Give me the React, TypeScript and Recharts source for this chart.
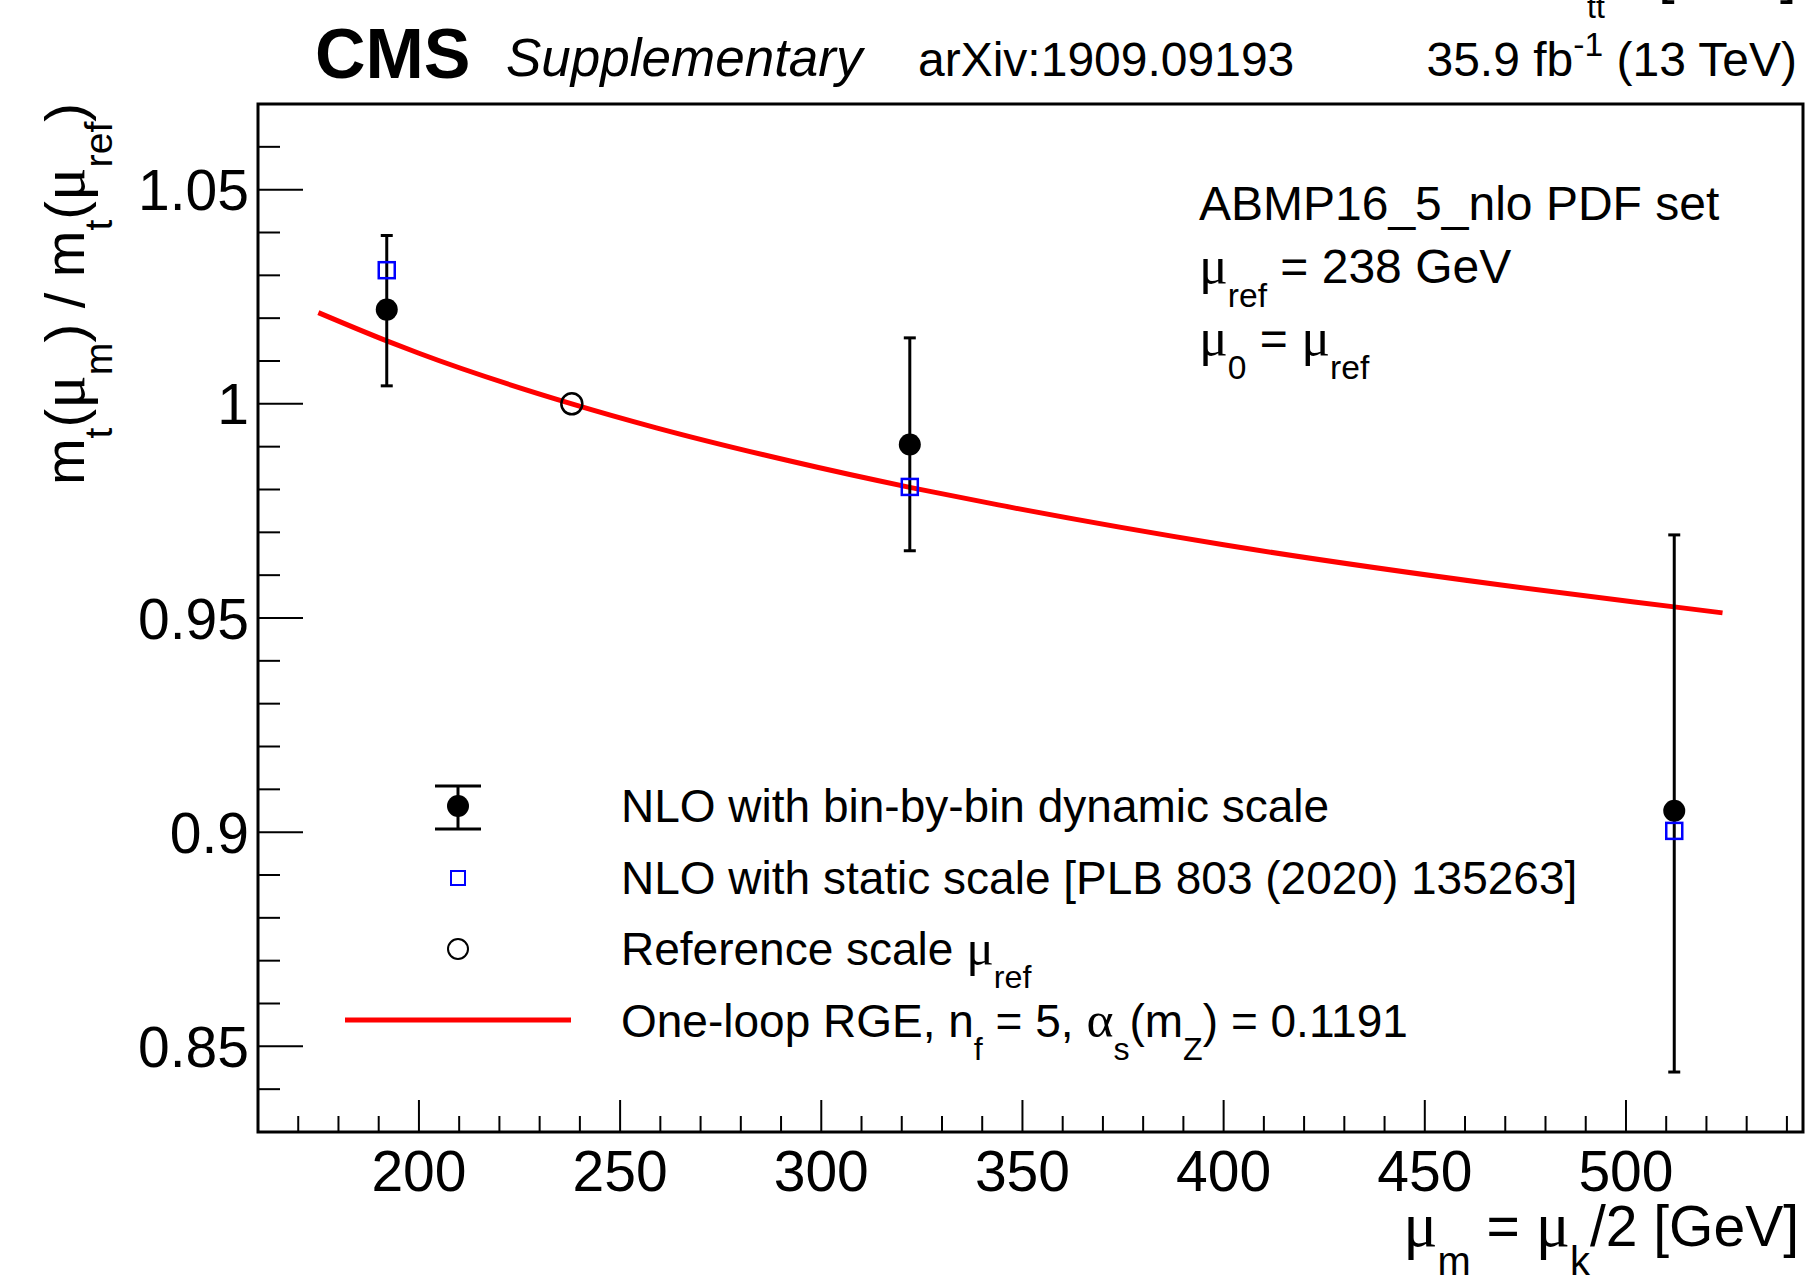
import React from "react";
import {
  ComposedChart,
  XAxis,
  YAxis,
  Line,
  Scatter,
  ErrorBar,
  ReferenceArea,
} from "recharts";

const FONT = "'Liberation Sans', Arial, Helvetica, sans-serif";
const GREEK = "'Liberation Serif', 'DejaVu Serif', serif";

// NLO with bin-by-bin dynamic scale
const dynMu = [192, 322, 512];
const dynRatio = [1.022, 0.9905, 0.905];
const dynErrDown = [0.0178, 0.0248, 0.061];
const dynErrUp = [0.0173, 0.0249, 0.0644];

// NLO with static scale
const staticMu = [192, 322, 512];
const staticRatio = [1.0312, 0.9806, 0.9003];

// reference scale
const refMu = [238];
const refRatio = [1.0];

// one-loop RGE curve
const rgeMu = [175, 192, 200, 238, 259, 292, 322, 344, 400, 469, 512, 524];
const rgeRatio = [1.0213, 1.0147, 1.0118, 1.0, 0.9944, 0.9867, 0.9805, 0.9764, 0.9671, 0.9577, 0.9526, 0.9512];

const xDomain = [160, 544];
const yDomain = [0.83, 1.07];
const xTicks = [160, 170, 180, 190, 200, 210, 220, 230, 240, 250, 260, 270, 280, 290, 300, 310, 320, 330, 340, 350, 360, 370, 380, 390, 400, 410, 420, 430, 440, 450, 460, 470, 480, 490, 500, 510, 520, 530, 540];
const xMajor = [200, 250, 300, 350, 400, 450, 500];
const yTicks = [0.83, 0.84, 0.85, 0.86, 0.87, 0.88, 0.89, 0.9, 0.91, 0.92, 0.93, 0.94, 0.95, 0.96, 0.97, 0.98, 0.99, 1, 1.01, 1.02, 1.03, 1.04, 1.05, 1.06, 1.07];
const yMajor = [0.85, 0.9, 0.95, 1, 1.05];

const dynData = dynMu.map((m, i) => ({ x: m, y: dynRatio[i], err: [dynErrDown[i], dynErrUp[i]] }));
const staticData = staticMu.map((m, i) => ({ x: m, y: staticRatio[i] }));
const refData = refMu.map((m, i) => ({ x: m, y: refRatio[i] }));
const rgeData = rgeMu.map((m, i) => ({ x: m, y: rgeRatio[i] }));

type Seg = { t: string; s?: "sub" | "sup"; g?: boolean };

function Rich({ segs, size, ...rest }: { segs: Seg[]; size: number; [k: string]: any }) {
  let cur = 0;
  return (
    <text fontFamily={FONT} fill="#000" fontSize={size} {...rest}>
      {segs.map((sg, i) => {
        const target = sg.s === "sub" ? size * 0.5 : sg.s === "sup" ? -size * 0.42 : 0;
        const dy = target - cur;
        cur = target;
        const fs = sg.s ? size * 0.7 : sg.g ? size * 1.12 : size;
        return (
          <tspan key={i} dy={dy} fontSize={fs} fontFamily={sg.g ? GREEK : FONT}>
            {sg.t}
          </tspan>
        );
      })}
    </text>
  );
}

function XTick({ x, y, payload }: any) {
  const v = payload.value;
  const major = xMajor.includes(v);
  return (
    <g>
      <line x1={x} x2={x} y1={y} y2={y - (major ? 32 : 16)} stroke="#000" strokeWidth={2} />
      {major && (
        <text x={x} y={y + 59} textAnchor="middle" fontSize={57} fontFamily={FONT} fill="#000">
          {v}
        </text>
      )}
    </g>
  );
}

function YTick({ x, y, payload }: any) {
  const v = payload.value;
  const major = yMajor.includes(v);
  return (
    <g>
      <line x1={x} x2={x + (major ? 45 : 22)} y1={y} y2={y} stroke="#000" strokeWidth={2} />
      {major && (
        <text x={x - 9} y={y + 20.5} textAnchor="end" fontSize={57} fontFamily={FONT} fill="#000">
          {String(v)}
        </text>
      )}
    </g>
  );
}

function Overlay() {
  const lx = 458;
  const tx = 621;
  return (
    <svg
      width={1814}
      height={1275}
      style={{ position: "absolute", left: 0, top: 0, pointerEvents: "none", overflow: "hidden" }}
    >
      {/* clipped remains of a label above the frame */}
      <text x={1587} y={18} fontSize={32} fontFamily={FONT}>tt</text>
      <text x={1658} y={-8} fontSize={60} fontFamily={FONT}>[</text>
      <text x={1780} y={-8} fontSize={60} fontFamily={FONT}>]</text>

      <text x={315} y={78} fontSize={70} fontWeight="bold" fontFamily={FONT}>CMS</text>
      <text x={506} y={76} fontSize={53} fontStyle="italic" fontFamily={FONT}>Supplementary</text>
      <text x={918} y={76} fontSize={48} fontFamily={FONT}>arXiv:1909.09193</text>
      <Rich
        x={1797}
        y={76}
        size={48}
        textAnchor="end"
        segs={[{ t: "35.9 fb" }, { t: "-1", s: "sup" }, { t: " (13 TeV)" }]}
      />

      {/* axis titles */}
      <Rich
        transform="rotate(-90)"
        x={-103}
        y={84}
        size={56}
        textAnchor="end"
        segs={[
          { t: "m" }, { t: "t", s: "sub" }, { t: "(" }, { t: "μ", g: true }, { t: "m", s: "sub" },
          { t: ") / m" }, { t: "t", s: "sub" }, { t: "(" }, { t: "μ", g: true }, { t: "ref", s: "sub" }, { t: ")" },
        ]}
      />
      <Rich
        x={1799}
        y={1246}
        size={57}
        textAnchor="end"
        segs={[
          { t: "μ", g: true }, { t: "m", s: "sub" }, { t: " = " }, { t: "μ", g: true }, { t: "k", s: "sub" }, { t: "/2 [GeV]" },
        ]}
      />

      {/* info block */}
      <text x={1199} y={220} fontSize={48} fontFamily={FONT}>ABMP16_5_nlo PDF set</text>
      <Rich x={1199} y={283} size={48} segs={[{ t: "μ", g: true }, { t: "ref", s: "sub" }, { t: " = 238 GeV" }]} />
      <Rich
        x={1199}
        y={355}
        size={48}
        segs={[{ t: "μ", g: true }, { t: "0", s: "sub" }, { t: " = " }, { t: "μ", g: true }, { t: "ref", s: "sub" }]}
      />

      {/* legend */}
      <line x1={lx} x2={lx} y1={786} y2={829} stroke="#000" strokeWidth={3} />
      <line x1={lx - 23} x2={lx + 23} y1={786} y2={786} stroke="#000" strokeWidth={3} />
      <line x1={lx - 23} x2={lx + 23} y1={829} y2={829} stroke="#000" strokeWidth={3} />
      <circle cx={lx} cy={806} r={11} fill="#000" />
      <text x={tx} y={822} fontSize={46} fontFamily={FONT}>NLO with bin-by-bin dynamic scale</text>

      <rect x={lx - 7} y={871} width={14} height={14} fill="none" stroke="#0000ff" strokeWidth={2} />
      <text x={tx} y={894} fontSize={46} fontFamily={FONT}>NLO with static scale [PLB 803 (2020) 135263]</text>

      <circle cx={lx} cy={949} r={10} fill="none" stroke="#000" strokeWidth={2} />
      <Rich x={tx} y={965} size={46} segs={[{ t: "Reference scale " }, { t: "μ", g: true }, { t: "ref", s: "sub" }]} />

      <line x1={345} x2={571} y1={1020} y2={1020} stroke="#ff0000" strokeWidth={5} />
      <Rich
        x={tx}
        y={1037}
        size={46}
        segs={[
          { t: "One-loop RGE, n" }, { t: "f", s: "sub" }, { t: " = 5, " }, { t: "α", g: true }, { t: "s", s: "sub" },
          { t: "(m" }, { t: "Z", s: "sub" }, { t: ") = 0.1191" },
        ]}
      />
    </svg>
  );
}

export default function App() {
  return (
    <div style={{ position: "absolute", left: 0, top: 0, width: 1814, height: 1275, background: "#fff" }}>
      <ComposedChart width={1814} height={1275} margin={{ top: 104, right: 11, bottom: 83, left: 200 }}>
        <XAxis
          type="number"
          dataKey="x"
          domain={xDomain}
          ticks={xTicks}
          interval={0}
          allowDataOverflow
          height={60}
          tickSize={0}
          tickMargin={0}
          tickLine={false}
          axisLine={false}
          tick={<XTick />}
        />
        <YAxis
          type="number"
          dataKey="y"
          domain={yDomain}
          ticks={yTicks}
          interval={0}
          allowDataOverflow
          width={58}
          tickSize={0}
          tickMargin={0}
          tickLine={false}
          axisLine={false}
          tick={<YTick />}
        />
        <ReferenceArea
          x1={xDomain[0]}
          x2={xDomain[1]}
          y1={yDomain[0]}
          y2={yDomain[1]}
          fill="none"
          stroke="#000"
          strokeWidth={3}
          ifOverflow="visible"
        />
        <Line
          data={rgeData}
          dataKey="y"
          type="monotone"
          stroke="#ff0000"
          strokeWidth={5}
          dot={false}
          activeDot={false}
          isAnimationActive={false}
        />
        <Scatter
          data={dynData}
          dataKey="y"
          isAnimationActive={false}
          shape={(p: any) => <circle cx={p.cx} cy={p.cy} r={11} fill="#000" />}
        >
          <ErrorBar dataKey="err" direction="y" width={6} stroke="#000" strokeWidth={3} />
        </Scatter>
        <Scatter
          data={staticData}
          dataKey="y"
          isAnimationActive={false}
          shape={(p: any) => (
            <rect x={p.cx - 8} y={p.cy - 8} width={16} height={16} fill="none" stroke="#0000ff" strokeWidth={2.5} />
          )}
        />
        <Scatter
          data={refData}
          dataKey="y"
          isAnimationActive={false}
          shape={(p: any) => <circle cx={p.cx} cy={p.cy} r={10.5} fill="none" stroke="#000" strokeWidth={2.5} />}
        />
      </ComposedChart>
      <Overlay />
    </div>
  );
}
